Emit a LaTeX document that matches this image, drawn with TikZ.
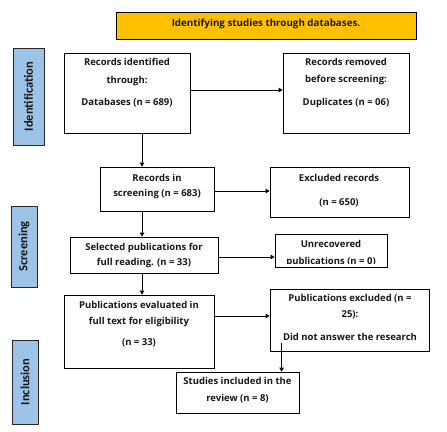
\documentclass[tikz,border=0pt]{standalone}
\usepackage{fontspec}
\setmainfont{Open Sans}
\newfontfamily\sidefont{Carlito}
\usetikzlibrary{arrows.meta,calc}
\definecolor{gold}{HTML}{FFC000}
\definecolor{sideblue}{HTML}{9DC3E6}
\tikzset{
  box/.style={draw=black, line width=0.8pt, fill=white, inner sep=0pt, rectangle},
  side/.style={draw=black!85, line width=0.9pt, fill=sideblue, inner sep=0pt, rectangle},
  txt/.style={font=\fontsize{9.5}{11}\selectfont\bfseries, text height=7pt, text depth=2pt, inner sep=0pt, text=black!90},
  sidetxt/.style={font=\sidefont\fontsize{12.5}{13}\selectfont\bfseries, rotate=90, inner sep=0pt, text=black!90},
  arr/.style={line width=0.8pt, -{Triangle[length=4pt,width=4.5pt]}}
}
\newcommand\bx[6][box]{\node[#1, minimum width={(#5-#3)*1pt}, minimum height={(#6-#4)*1pt}] (#2) at ({(#3+#5)/2},{(#4+#6)/2}) {};}
\newcommand\tl[4]{\node[txt] (#1) at (#2,#3) {#4};}
\begin{document}
\begin{tikzpicture}[x=1pt,y=-1pt]
\useasboundingbox (0,0) rectangle (447,431);
% banner
\bx[box,fill=gold]{ban}{116}{12}{416}{39}
\node[txt, font=\fontsize{9.8}{11}\selectfont\bfseries] (bant) at (266,24) {Identifying studies through databases.};
% side labels
\bx[side]{sid}{13}{48}{44}{145}
\node[sidetxt] (sidt) at (sid.center) {Identification};
\bx[side]{sscr}{11}{206}{37}{287}
\node[sidetxt] (sscrt) at (sscr.center) {Screening};
\bx[side]{sinc}{12}{340}{38}{424}
\node[sidetxt] (sinct) at (sinc.center) {Inclusion};
% boxes
\bx{A}{64}{53}{190}{133}
\bx{B}{283}{53}{409}{133}
\bx{C}{100}{167}{214}{211}
\bx{D}{270}{167}{409}{217}
\bx{E}{70}{237}{218}{273}
\bx{F}{275}{234}{387}{267}
\bx{G}{64}{295}{214}{368}
\bx{H}{270}{289}{429}{351}
\bx{I}{176}{372}{299}{413}
% texts
\tl{a1}{127}{63}{Records identified}
\tl{a2}{127}{81}{through:}
\tl{a3}{127}{103}{Databases (n = 689)}
\tl{b1}{346}{63}{Records removed}
\tl{b2}{346}{80}{before screening:}
\tl{b3}{346}{103}{Duplicates (n = 06)}
\tl{c1}{157}{179}{Records in}
\tl{c2}{157}{194}{screening (n = 683)}
\tl{d1}{339}{179}{Excluded records}
\tl{d2}{339}{203}{(n = 650)}
\tl{e1}{144}{248}{Selected publications for}
\tl{e2}{144}{263}{full reading. (n = 33)}
\begin{scope}
\clip (F.north west) rectangle ($(F.south east)+(0,-3.5)$);
\tl{f1}{331}{245}{Unrecovered}
\tl{f2}{331}{261.5}{publications (n = 0)}
\end{scope}
\tl{g1}{139}{306}{Publications evaluated in}
\tl{g2}{139}{322}{full text for eligibility}
\tl{g3}{139}{343}{(n = 33)}
\tl{h1}{350}{299}{Publications excluded (n =}
\tl{h2}{350}{315}{25):}
\tl{h3}{350}{338}{Did not answer the research}
\tl{i1}{237.5}{382}{Studies included in the}
\tl{i2}{237.5}{399}{review (n = 8)}
% connectors
\coordinate (vx) at (142,0);
\coordinate (yAB) at (0,90);
\coordinate (yCD) at (0,191);
\coordinate (yEF) at (0,257);
\coordinate (yGH) at (0,316);
\draw[arr] (A.east |- yAB) -- (B.west |- yAB);
\draw[arr] (C.east |- yCD) -- (D.west |- yCD);
\draw[arr] (E.east |- yEF) -- (F.west |- yEF);
\draw[arr] (G.east |- yGH) -- (H.west |- yGH);
\draw[arr] (A.south -| vx) -- (C.north -| vx);
\draw[arr] (C.south -| vx) -- (E.north -| vx);
\draw[arr] (E.south -| vx) -- (G.north -| vx);
\coordinate (hI) at ($(H.south west)+(12,-8)$);
\draw[arr] (hI) -- (hI |- I.north);
\end{tikzpicture}
\end{document}
